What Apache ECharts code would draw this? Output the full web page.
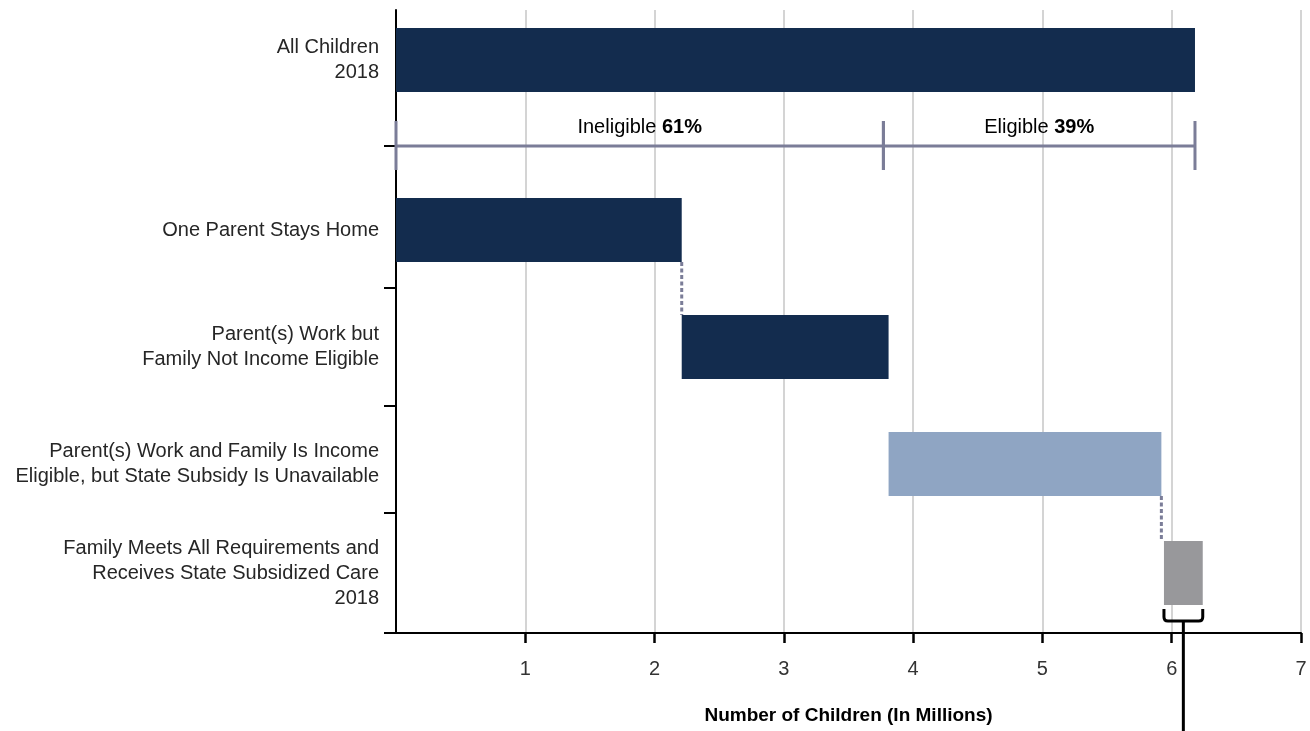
<!DOCTYPE html>
<html>
<head>
<meta charset="utf-8">
<title>Children and State Subsidized Care, 2018</title>
<script src="https://cdn.jsdelivr.net/npm/echarts@6/dist/echarts.min.js"></script>
<style>
  html, body { margin: 0; padding: 0; background: #fff; }
  #chart { width: 1310px; height: 731px; }
</style>
</head>
<body>
<div id="chart"></div>
<script>
// ---- data (millions of children) ----
const categories = [
  'All Children\n2018',
  'One Parent Stays Home',
  'Parent(s) Work but\nFamily Not Income Eligible',
  'Parent(s) Work and Family Is Income\nEligible, but State Subsidy Is Unavailable',
  'Family Meets All Requirements and\nReceives State Subsidized Care\n2018'
];
const barStart = [0, 0, 2.21, 3.81, 5.94];
const barEnd   = [6.18, 2.21, 3.81, 5.92, 6.24];

const splitNames  = ['Ineligible', 'Eligible'];
const splitPct    = [61, 39];
const splitBounds = [0, 3.77, 6.18];

const xTicks = [1, 2, 3, 4, 5, 6, 7];
const xTitle = 'Number of Children (In Millions)';

// ---- layout (vertical positions along a 0..623 band scale) ----
const ROW_Y      = [50, 220, 337, 454, 563];
const BRACKET_Y  = 136;
const ROW_TICKS  = [136, 278, 396, 503, 623];
const HALF       = 32;

const NAVY = '#132c4e', LIGHT = '#8fa5c3', GRAY = '#98989b', BRK = '#7b7d98';
const barColors = [NAVY, NAVY, NAVY, LIGHT, GRAY];
const FONT = '"Liberation Sans", Arial, Helvetica, sans-serif';
const TXT = '#262626';

const chart = echarts.init(document.getElementById('chart'), null, { renderer: 'canvas' });

const labelByPos = {};
ROW_Y.forEach((y, i) => { labelByPos[y] = categories[i]; });

function line(x1, y1, x2, y2, style) {
  return { type: 'line', shape: { x1, y1, x2, y2 }, style };
}

chart.setOption({
  animation: false,
  backgroundColor: '#fff',
  grid: { left: 396, right: 9, top: 10, bottom: 98, containLabel: false },
  xAxis: {
    type: 'value', min: 0, max: 7, interval: 1,
    axisLine: { show: true, onZero: false, lineStyle: { color: '#000', width: 2 } },
    axisTick: { show: true, length: 10, customValues: xTicks, lineStyle: { color: '#000', width: 2.5 } },
    axisLabel: {
      margin: 26, fontSize: 20, color: '#333', fontFamily: FONT,
      customValues: xTicks,
      formatter: v => String(v)
    },
    splitLine: { show: true, lineStyle: { color: '#c6c6c6', width: 1.5 } },
    name: xTitle, nameLocation: 'middle', nameGap: 73,
    nameTextStyle: { fontSize: 19, fontWeight: 'bold', color: '#000', fontFamily: FONT }
  },
  yAxis: {
    type: 'value', inverse: true, min: 0, max: 623, interval: 623,
    axisLine: { show: true, lineStyle: { color: '#000', width: 2 } },
    axisTick: { show: true, length: 12, customValues: ROW_TICKS, lineStyle: { color: '#000', width: 2 } },
    axisLabel: {
      show: true, customValues: ROW_Y, margin: 17,
      fontSize: 20, lineHeight: 25, color: TXT, fontFamily: FONT, align: 'right',
      formatter: v => labelByPos[v] || ''
    },
    splitLine: { show: false }
  },
  series: [
    {
      // horizontal bars from start to end
      type: 'custom', name: 'bars',
      data: categories.map((c, i) => [barStart[i], barEnd[i], i]),
      encode: { x: [0, 1] },
      renderItem: (params, api) => {
        const i = api.value(2);
        const y = ROW_Y[i];
        const p0 = api.coord([api.value(0), y - HALF]);
        const p1 = api.coord([api.value(1), y + HALF]);
        return {
          type: 'rect',
          shape: { x: p0[0], y: p0[1], width: p1[0] - p0[0], height: p1[1] - p0[1] },
          style: { fill: barColors[i] }
        };
      },
      z: 3
    },
    {
      // dotted connectors between consecutive steps
      type: 'custom', name: 'connectors',
      data: [[barEnd[1], 1, 2], [barEnd[3], 3, 4]],
      encode: { x: 0 },
      renderItem: (params, api) => {
        const x = api.value(0);
        const a = api.coord([x, ROW_Y[api.value(1)] + HALF]);
        const b = api.coord([x, ROW_Y[api.value(2)] - HALF]);
        return line(a[0], a[1], b[0], b[1], { stroke: BRK, lineWidth: 3, lineDash: [4, 2.5] });
      },
      z: 3
    },
    {
      // ineligible / eligible split bracket
      type: 'custom', name: 'split',
      data: [[splitBounds[0], splitBounds[1], 0], [splitBounds[1], splitBounds[2], 1]],
      encode: { x: [0, 1] },
      renderItem: (params, api) => {
        const k = api.value(2);
        const a = api.coord([api.value(0), BRACKET_Y]);
        const b = api.coord([api.value(1), BRACKET_Y]);
        const st = { stroke: BRK, lineWidth: 3 };
        const children = [
          line(a[0], a[1], b[0], b[1], st),
          line(a[0], a[1] - 25, a[0], a[1] + 24, st),
          line(b[0], b[1] - 25, b[0], b[1] + 24, st),
          {
            type: 'text',
            style: {
              x: (a[0] + b[0]) / 2, y: a[1] - 19,
              text: '{n|' + splitNames[k] + ' }{b|' + splitPct[k] + '%}',
              align: 'center', verticalAlign: 'middle',
              rich: {
                n: { fontSize: 20, color: TXT, fontFamily: FONT },
                b: { fontSize: 20, fontWeight: 'bold', color: '#111', fontFamily: FONT }
              }
            }
          }
        ];
        return { type: 'group', children };
      },
      z: 4
    },
    {
      // callout bracket under the subsidized-care bar
      type: 'custom', name: 'callout', clip: false,
      data: [[barStart[4], barEnd[4]]],
      encode: { x: [0, 1] },
      renderItem: (params, api) => {
        const yTop = ROW_Y[4] + HALF + 4;
        const a = api.coord([api.value(0), yTop]);
        const b = api.coord([api.value(1), yTop]);
        const yb = a[1] + 12;
        const r = 4;
        const xm = (a[0] + b[0]) / 2;
        const st = { stroke: '#000', lineWidth: 3, fill: null };
        return {
          type: 'group',
          children: [
            {
              type: 'path',
              shape: {
                pathData:
                  'M' + a[0] + ' ' + a[1] + ' L' + a[0] + ' ' + (yb - r) +
                  ' Q' + a[0] + ' ' + yb + ' ' + (a[0] + r) + ' ' + yb +
                  ' L' + (b[0] - r) + ' ' + yb +
                  ' Q' + b[0] + ' ' + yb + ' ' + b[0] + ' ' + (yb - r) +
                  ' L' + b[0] + ' ' + a[1]
              },
              style: st
            },
            line(xm, yb, xm, api.getHeight(), { stroke: '#000', lineWidth: 3 })
          ]
        };
      },
      z: 5
    }
  ]
});
</script>
</body>
</html>
